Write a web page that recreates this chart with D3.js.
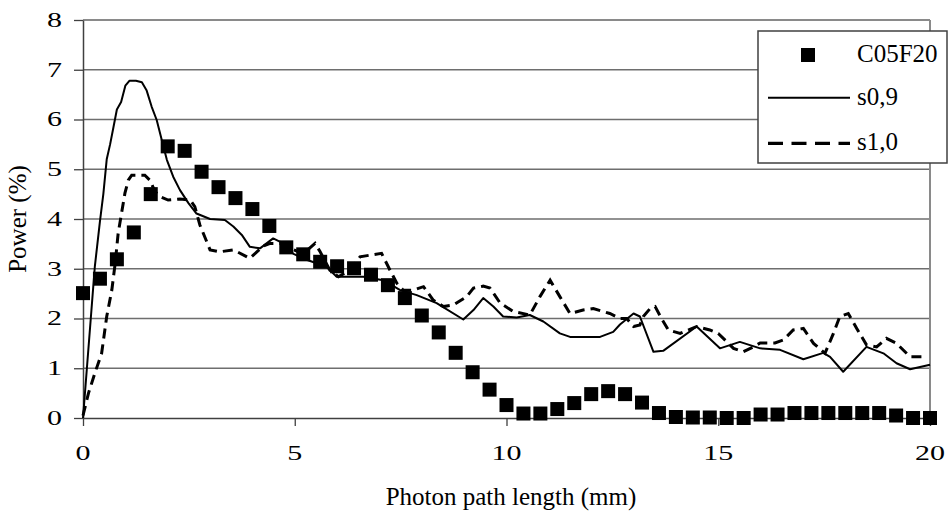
<!DOCTYPE html>
<html>
<head>
<meta charset="utf-8">
<script src="https://cdn.jsdelivr.net/npm/d3@7/dist/d3.min.js"></script>
<style>
  html, body { margin: 0; padding: 0; background: #fff; }
  svg { display: block; }
  text { font-family: "Liberation Serif", "Times New Roman", serif; fill: #000; }
</style>
</head>
<body>
<svg id="chart" width="948" height="520"></svg>
<script>
// Measured power distribution (C05F20) sampled every 0.4 mm
const measuredX = [0, 0.4, 0.8, 1.2, 1.6, 2.0, 2.4, 2.8, 3.2, 3.6, 4.0, 4.4, 4.8, 5.2, 5.6, 6.0, 6.4, 6.8, 7.2, 7.6,
  8.0, 8.4, 8.8, 9.2, 9.6, 10.0, 10.4, 10.8, 11.2, 11.6, 12.0, 12.4, 12.8, 13.2, 13.6, 14.0, 14.4, 14.8, 15.2, 15.6,
  16.0, 16.4, 16.8, 17.2, 17.6, 18.0, 18.4, 18.8, 19.2, 19.6, 20.0];
const measuredPower = [2.51, 2.80, 3.19, 3.73, 4.50, 5.46, 5.37, 4.95, 4.64, 4.42, 4.20, 3.86, 3.43, 3.29, 3.14, 3.05, 3.01, 2.88, 2.67, 2.41,
  2.06, 1.72, 1.31, 0.92, 0.57, 0.26, 0.09, 0.09, 0.18, 0.30, 0.48, 0.54, 0.48, 0.31, 0.10, 0.02, 0.01, 0.01, 0, 0,
  0.07, 0.07, 0.10, 0.10, 0.10, 0.10, 0.10, 0.10, 0.05, 0, 0];

// Simulated curve s0,9
const s09X = [0, 0.28, 0.4, 0.48, 0.56, 0.64, 0.72, 0.8, 0.9, 1.0, 1.1, 1.25, 1.39, 1.5, 1.62, 1.74, 1.86, 1.98, 2.13, 2.29,
  2.49, 2.68, 3.0, 3.35, 3.55, 3.75, 3.94, 4.18, 4.49, 4.73, 4.97, 5.28, 5.75, 5.99, 6.62, 7.09, 7.49, 7.88, 8.35, 8.98,
  9.22, 9.45, 9.69, 9.92, 10.24, 10.55, 10.87, 11.26, 11.5, 12.21, 12.52, 12.68, 13.0, 13.15, 13.47, 13.7, 14.49, 15.04, 15.51, 15.99,
  16.46, 17.01, 17.48, 17.64, 17.95, 18.5, 18.9, 19.21, 19.53, 20];
const s09Power = [0, 3.05, 3.95, 4.5, 5.2, 5.5, 5.85, 6.2, 6.35, 6.68, 6.78, 6.78, 6.75, 6.59, 6.26, 5.99, 5.59, 5.19, 4.85, 4.58,
  4.32, 4.11, 4.0, 3.98, 3.85, 3.68, 3.44, 3.41, 3.61, 3.51, 3.3, 3.18, 3.04, 2.84, 2.84, 2.77, 2.57, 2.47, 2.31, 1.98,
  2.17, 2.41, 2.24, 2.04, 2.02, 2.07, 1.94, 1.70, 1.63, 1.63, 1.73, 1.88, 2.10, 2.04, 1.33, 1.35, 1.84, 1.40, 1.53, 1.40,
  1.37, 1.18, 1.31, 1.23, 0.93, 1.43, 1.30, 1.10, 0.98, 1.07];

// Simulated curve s1,0
const s10X = [0, 0.13, 0.28, 0.44, 0.56, 0.68, 0.76, 0.83, 0.99, 1.07, 1.15, 1.46, 1.58, 1.7, 1.82, 2.01, 2.29, 2.53, 2.64, 2.76,
  3.0, 3.23, 3.55, 3.94, 4.26, 4.42, 4.65, 4.81, 5.2, 5.48, 5.6, 5.83, 6.03, 6.3, 6.54, 6.82, 7.05, 7.25, 7.41, 7.56,
  7.8, 8.04, 8.27, 8.51, 8.74, 9.06, 9.22, 9.45, 9.61, 9.85, 10.16, 10.55, 10.79, 11.03, 11.26, 11.5, 11.81, 12.05, 12.44, 12.68,
  12.84, 13.0, 13.15, 13.23, 13.39, 13.51, 13.66, 13.82, 14.1, 14.49, 14.8, 15.0, 15.36, 15.59, 15.83, 15.99, 16.34, 16.54, 16.77, 17.01,
  17.25, 17.52, 17.72, 17.87, 18.07, 18.27, 18.5, 18.74, 18.97, 19.21, 19.53, 19.85];
const s10Power = [0.05, 0.5, 0.9, 1.3, 2.04, 2.57, 3.11, 3.71, 4.52, 4.78, 4.88, 4.88, 4.78, 4.55, 4.45, 4.38, 4.40, 4.38, 4.25, 3.88,
  3.38, 3.34, 3.38, 3.21, 3.46, 3.51, 3.51, 3.44, 3.3, 3.51, 3.34, 2.97, 2.84, 2.97, 3.24, 3.28, 3.31, 2.97, 2.71, 2.57,
  2.57, 2.64, 2.37, 2.24, 2.27, 2.44, 2.61, 2.65, 2.61, 2.31, 2.14, 2.07, 2.44, 2.77, 2.44, 2.10, 2.17, 2.20, 2.10, 2.0,
  2.0, 1.84, 1.87, 2.04, 2.20, 2.24, 2.0, 1.77, 1.70, 1.84, 1.77, 1.70, 1.40, 1.33, 1.43, 1.51, 1.51, 1.57, 1.77, 1.80,
  1.50, 1.30, 1.70, 2.04, 2.10, 1.80, 1.47, 1.43, 1.60, 1.50, 1.23, 1.23];

const xTicks = [0, 5, 10, 15, 20];
const yTicks = [0, 1, 2, 3, 4, 5, 6, 7, 8];
const seriesNames = ["C05F20", "s0,9", "s1,0"];

const svg = d3.select("#chart");
const x = d3.scaleLinear().domain([0, 20]).range([83, 930]);
const y = d3.scaleLinear().domain([0, 8]).range([418, 20]);

// horizontal gridlines
svg.append("g")
  .selectAll("line")
  .data(yTicks.filter(d => d > 0 && d < 8))
  .join("line")
  .attr("x1", x(0)).attr("x2", x(20))
  .attr("y1", d => y(d)).attr("y2", d => y(d))
  .attr("stroke", "#6e6e6e").attr("stroke-width", 1.3);

// plot frame: top and right edges
svg.append("line").attr("x1", x(0)).attr("x2", x(20)).attr("y1", y(8)).attr("y2", y(8))
  .attr("stroke", "#8a8a8a").attr("stroke-width", 2);
svg.append("line").attr("x1", x(20)).attr("x2", x(20)).attr("y1", y(8)).attr("y2", y(0))
  .attr("stroke", "#8a8a8a").attr("stroke-width", 2);

// y axis
const yAxis = svg.append("g").attr("transform", `translate(${x(0)},0)`)
  .call(d3.axisLeft(y).tickValues(yTicks).tickSize(9).tickSizeOuter(0).tickFormat(""));
yAxis.select(".domain").attr("stroke", "#404040").attr("stroke-width", 1.5);
yAxis.selectAll(".tick line").attr("stroke", "#404040").attr("stroke-width", 1.3);

// x axis
const xAxis = svg.append("g").attr("transform", `translate(0,${y(0)})`)
  .call(d3.axisBottom(x).tickValues(xTicks).tickSize(8).tickSizeOuter(0).tickFormat(""));
xAxis.select(".domain").attr("stroke", "#404040").attr("stroke-width", 1.5);
xAxis.selectAll(".tick line").attr("stroke", "#404040").attr("stroke-width", 1.3);

// tick labels (wide serif digits)
svg.append("g").selectAll("g")
  .data(yTicks).join("g")
  .attr("transform", d => `translate(62,${y(d) + 6.8}) scale(1.5,1)`)
  .append("text")
  .attr("text-anchor", "end").attr("font-size", 20)
  .text(d => d);

svg.append("g").selectAll("g")
  .data(xTicks).join("g")
  .attr("transform", d => `translate(${x(d)},${460}) scale(1.5,1)`)
  .append("text")
  .attr("text-anchor", "middle").attr("font-size", 20)
  .text(d => d);

// axis titles
svg.append("text")
  .attr("x", 511).attr("y", 505)
  .attr("text-anchor", "middle").attr("font-size", 25)
  .text("Photon path length (mm)");

svg.append("text")
  .attr("transform", "translate(26,219) rotate(-90)")
  .attr("text-anchor", "middle").attr("font-size", 25)
  .text("Power (%)");

// simulated curves
const line = d3.line().x(d => x(d[0])).y(d => y(d[1]));

svg.append("path")
  .datum(s09X.map((v, i) => [v, s09Power[i]]))
  .attr("d", line)
  .attr("fill", "none").attr("stroke", "#000").attr("stroke-width", 2)
  .attr("stroke-linejoin", "round");

svg.append("path")
  .datum(s10X.map((v, i) => [v, s10Power[i]]))
  .attr("d", line)
  .attr("fill", "none").attr("stroke", "#000").attr("stroke-width", 3)
  .attr("stroke-dasharray", "10,6");

// measured points
const sq = 14;
svg.append("g").selectAll("rect")
  .data(measuredX.map((v, i) => [v, measuredPower[i]]))
  .join("rect")
  .attr("x", d => x(d[0]) - sq / 2).attr("y", d => y(d[1]) - sq / 2)
  .attr("width", sq).attr("height", sq)
  .attr("fill", "#000");

// legend
const lg = svg.append("g");
lg.append("rect").attr("x", 758).attr("y", 31).attr("width", 189).attr("height", 132)
  .attr("fill", "#fff").attr("stroke", "#404040").attr("stroke-width", 1.5);
lg.append("rect").attr("x", 801).attr("y", 48).attr("width", 14).attr("height", 14).attr("fill", "#000");
lg.append("line").attr("x1", 768).attr("x2", 850).attr("y1", 97.7).attr("y2", 97.7)
  .attr("stroke", "#000").attr("stroke-width", 2);
lg.append("line").attr("x1", 768).attr("x2", 850).attr("y1", 143.3).attr("y2", 143.3)
  .attr("stroke", "#000").attr("stroke-width", 3.3).attr("stroke-dasharray", "15,8.5");
lg.selectAll("text.lab")
  .data(seriesNames).join("text")
  .attr("class", "lab")
  .attr("x", 857).attr("y", (d, i) => [61.7, 105, 150][i])
  .attr("font-size", 25)
  .text(d => d);
</script>
</body>
</html>
